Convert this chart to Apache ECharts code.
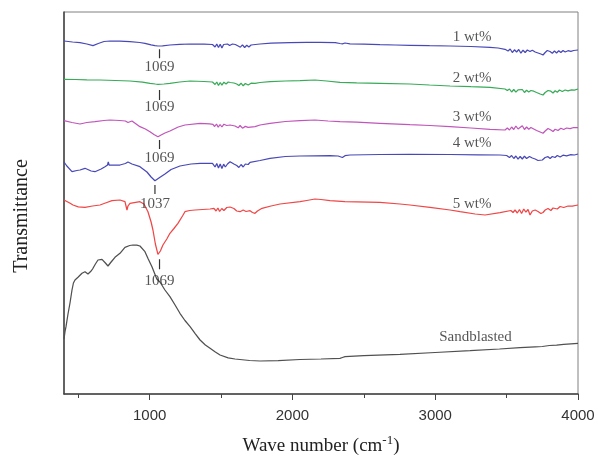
<!DOCTYPE html>
<html>
<head>
<meta charset="utf-8">
<script src="https://cdn.jsdelivr.net/npm/echarts@6/dist/echarts.min.js"></script>
<style>
html,body{margin:0;padding:0;background:#fff;}
#chart{width:598px;height:463px;}
</style>
</head>
<body>
<div id="chart"></div>
<script>
// ---- Data (wave number cm^-1, transmittance a.u.) ----
const wt1 = [[400,353],[460,352],[512,351.3],[560,350],[603,348.3],[640,350.5],[680,352.5],[722,353],[790,352.8],[862,352.3],[930,351.5],[967,350.7],[1010,349.2],[1037,348.3],[1058,348],[1090,348.2],[1142,349],[1210,349.6],[1283,350],[1380,349.8],[1440,349.5],
[1458,347],[1470,350],[1482,346.5],[1494,349.8],[1506,346],[1518,349.5],[1530,347.5],[1545,350],[1560,348.5],[1580,350],[1600,349.5],[1620,348],[1635,346.8],[1650,349.2],[1665,346.5],[1680,348.8],[1695,347],[1710,349],[1740,349.5],[1773,350],
[1850,350.8],[1983,351.3],[2100,351.6],[2193,351.7],[2300,351.3],[2333,350.5],[2350,350.2],[2368,351],[2403,350.2],[2500,349.8],[2613,349.3],[2720,349],[2823,348.7],[2960,348.3],[3104,348],[3250,347.5],[3384,346.7],[3440,346],[3489,344.7],
[3510,343],[3525,345],[3540,341.5],[3555,344.2],[3570,342],[3585,344.5],[3600,340.8],[3615,343.8],[3630,341.5],[3645,344],[3664,342.5],[3680,343.8],[3700,342],[3720,341],[3740,340],[3755,339],[3770,341.5],[3785,343.5],[3804,342.5],[3820,340.8],[3835,343],[3850,341],[3865,343.2],[3880,341.5],[3895,343.5],[3910,342],[3930,343.3],[3950,342.6],[3970,343.5],[4000,344]];

const wt2 = [[400,314.7],[480,314.5],[560,314.2],[652,314],[760,313.5],[862,313],[950,311.8],[1002,310.7],[1040,310],[1058,309.7],[1100,310],[1142,310.7],[1210,312],[1283,313],[1380,312.5],[1440,312],
[1458,309.5],[1470,312],[1482,308.5],[1494,311.5],[1506,308.8],[1520,311.8],[1535,310],[1550,312],[1565,311.5],[1590,311],[1610,310],[1625,308.5],[1640,310.8],[1655,308.2],[1670,310.5],[1690,309],[1710,310.8],[1738,310.7],[1773,311.5],[1843,312.3],[1950,313],[2053,313.3],[2158,314],[2240,313],[2333,311.7],[2450,311.2],[2613,310.7],[2823,310],[2960,309],[3104,308],[3250,307.3],[3384,306.7],[3489,305],
[3505,303.5],[3520,305],[3535,302],[3550,304.5],[3565,301.8],[3580,304.2],[3594,302.3],[3610,304.5],[3625,301.5],[3640,303.8],[3655,302],[3670,303.5],[3690,302.8],[3710,301.5],[3735,300],[3755,299],[3770,301.5],[3790,303.5],[3810,302.8],[3825,301],[3840,303.3],[3855,301.8],[3870,304],[3890,302.5],[3910,304],[3930,303.2],[3955,304.2],[3975,303.8],[4000,305]];

const wt3 = [[400,273.3],[456,271.5],[512,270],[560,271.5],[617,272.3],[680,273.5],[722,274],[790,273.5],[830,273],[848,271.5],[862,272.8],[876,273],[932,267.3],[970,265],[1002,262.3],[1030,259.5],[1058,257.3],[1080,259],[1107,261],[1142,263],[1200,267],[1247,269],[1353,270.7],[1420,270.2],
[1443,269.7],[1455,267.5],[1468,270],[1480,266.8],[1493,269.5],[1506,267],[1520,269.8],[1540,268.5],[1563,269],[1598,268],[1620,266.2],[1633,268.5],[1650,265.8],[1670,267.6],[1689,266.7],[1703,267.5],[1738,267.3],[1773,269],[1843,270.7],[1950,272.5],[2053,273.3],[2158,274],[2250,273],[2333,272.3],[2450,271.8],[2613,270.7],[2823,269.3],[2963,268.5],[3104,267.3],[3250,266],[3384,264.7],[3489,264],
[3505,266],[3520,264],[3535,267],[3550,264.5],[3565,268],[3580,265],[3594,265.7],[3610,268.2],[3625,264.5],[3640,267],[3655,264.8],[3670,266.5],[3690,265],[3710,263.5],[3735,262],[3755,260.7],[3770,263],[3790,265.5],[3810,264],[3825,262.5],[3840,264.8],[3860,263.5],[3880,265.8],[3900,264.5],[3920,266],[3945,265.3],[3970,266.5],[4000,266.3]];

const wt4 = [[400,232],[420,228],[456,222.3],[490,223.5],[512,224],[547,225.7],[590,223],[617,222.3],[660,225],[687,227.3],[705,229],[710,232],[716,229],[729,228],[792,229],[830,230.5],[848,232],[862,231.5],[876,230],[932,227.3],[981,222],[1010,217],[1037,213.3],[1070,216.5],[1107,220],[1150,224.5],[1212,228],[1290,230],[1353,230.7],[1440,230.7],
[1458,227],[1470,230.5],[1482,226],[1494,230],[1506,225.5],[1518,229.8],[1530,227],[1545,230],[1563,232.3],[1590,230],[1610,228.5],[1625,226.5],[1640,229.5],[1655,227],[1670,230],[1690,229.5],[1703,231.7],[1773,233.5],[1843,235.7],[1950,237.5],[2053,238],[2263,238.3],[2320,238],[2333,237],[2350,236.5],[2368,238.3],[2403,239],[2613,239.5],[2823,239.7],[3104,239.5],[3300,239.2],[3454,239],[3500,238.5],
[3520,236.5],[3535,238.5],[3550,235.5],[3565,238],[3580,234.8],[3595,237.5],[3610,235],[3625,237.8],[3640,235.5],[3660,237.5],[3680,236],[3700,235],[3720,233.5],[3734,232.3],[3750,234],[3770,236.5],[3790,237.3],[3805,235.5],[3820,237.5],[3839,236.5],[3855,238.5],[3875,237],[3895,238.8],[3920,238.2],[3950,239.3],[3975,239],[4000,240]];

const wt5 = [[400,194],[407,195.7],[440,191],[463,189],[500,187.2],[547,186.7],[600,188],[652,189],[700,191.5],[736,193.3],[792,194],[827,192.3],[836,187],[841,184],[848,188],[862,190.7],[932,192.3],[960,190],[988,182.3],[1010,172],[1023,164],[1040,150],[1058,139.7],[1075,143],[1093,149],[1120,155],[1142,160.7],[1170,165.5],[1198,170.7],[1230,178],[1247,182.3],[1280,183.5],[1318,184],[1423,185],[1450,185.7],
[1465,183],[1478,186],[1490,182.5],[1505,185.5],[1520,183.5],[1540,186.5],[1563,187],[1590,185.5],[1610,183],[1633,182.3],[1655,184],[1675,182.5],[1703,183.3],[1720,181.5],[1738,180.7],[1755,183],[1787,185.7],[1850,188],[1913,190],[2053,192.3],[2100,193.5],[2158,195],[2200,194.5],[2263,193.3],[2368,192.3],[2613,191.7],[2753,190],[2823,189],[2963,186.7],[3104,184],[3174,182.3],[3280,180],[3349,179],[3454,181.3],[3530,183.5],
[3545,181.5],[3559,184],[3575,181],[3590,184.5],[3605,180.5],[3620,185],[3635,181.8],[3650,184.5],[3664,179],[3680,183],[3700,184],[3720,182.5],[3740,180.5],[3755,181.5],[3770,184],[3790,185.5],[3810,183.5],[3825,186],[3839,186.7],[3855,185],[3875,187.5],[3900,186.5],[3930,188],[3960,187.8],[4000,189]];

const sandblasted = [[400,55],[407,62.3],[414,67.3],[428,80],[442,91],[456,104],[466,111],[477,114],[498,116.7],[526,120.7],[547,122.3],[568,120],[590,123],[603,125.7],[620,130],[638,134],[666,134.7],[690,131],[708,128],[730,132],[757,136.7],[792,140.7],[827,146.7],[860,148.5],[883,149],[910,148.8],[932,148],[967,142.3],[990,135],[1016,127.3],[1050,115],[1072,112],[1107,104],[1142,97.3],[1180,88.5],[1212,80.7],[1247,73.5],[1283,67.3],[1320,60.2],[1353,54],[1390,49],[1423,45.7],[1460,42],[1493,39],[1550,36.2],[1598,35],[1700,33.5],[1773,33],[1900,33.3],[2053,34.5],[2200,35],[2333,35.7],[2350,36.5],[2368,37.3],[2500,38.3],[2753,39.7],[3000,41.5],[3244,43.3],[3450,45],[3594,46.3],[3700,47.2],[3750,47.5],[3800,48.5],[3850,48.8],[3900,49.6],[4000,50.7]];

const seriesNames = ['1 wt%','2 wt%','3 wt%','4 wt%','5 wt%','Sandblasted'];
const labelX = [3258,3258,3258,3258,3258,3282];
const labelY = [356.7,316.3,276.7,250.7,190,57.3];

// peak annotations
const annX = [1069,1069,1069,1037,1069];
const annTickTop = [344.7,304,254,209,134.7];
const annTickBottom = [335.7,294,245,200,124.7];
const annTextY = [327.3,286.7,235.7,190,113.3];
const annText = ['1069','1069','1069','1037','1069'];

const majorTicks = [1000,2000,3000,4000];
const minorTicks = [500,1500,2500,3500];

// ---- Chart ----
const chart = echarts.init(document.getElementById('chart'));
const curves = [wt1, wt2, wt3, wt4, wt5, sandblasted];
const curveColors = ['#4848b8','#38aa58','#c055ba','#4848b8','#f04646','#505050'];
const serif = 'Liberation Serif, Times New Roman, serif';

const series = [];
curves.forEach((d, i) => {
  series.push({
    type: 'line', data: d, showSymbol: false, smooth: false,
    lineStyle: {width: 1.25, color: curveColors[i]}, silent: true, z: 3
  });
});
annX.forEach((x, i) => {
  series.push({
    type: 'line', data: [[x, annTickTop[i]], [x, annTickBottom[i]]], showSymbol: false,
    lineStyle: {width: 1.2, color: '#333'}, silent: true, z: 4
  });
});
series.push({
  type: 'scatter', symbolSize: 0, silent: true, z: 5,
  data: annX.map((x, i) => ({value: [x, annTextY[i]], name: annText[i]})),
  label: {show: true, position: 'inside', formatter: '{b}', color: '#2a2a2a', fontFamily: serif, fontSize: 15}
});
series.push({
  type: 'scatter', symbolSize: 0, silent: true, z: 5,
  data: labelX.map((x, i) => ({value: [x, labelY[i]], name: seriesNames[i]})),
  label: {show: true, position: 'inside', formatter: '{b}', color: '#2a2a2a', fontFamily: serif, fontSize: 15}
});
series.push({
  type: 'line', xAxisIndex: 1, data: [], silent: true
});

chart.setOption({
  animation: false,
  backgroundColor: '#fff',
  grid: {left: 64, right: 20, top: 12, bottom: 69, show: true, borderColor: '#808080', borderWidth: 1},
  xAxis: [{
    type: 'value', min: 400, max: 4000,
    name: '{m|Wave number (cm}{s|-1}{m|)}', nameLocation: 'middle', nameGap: 40,
    nameTextStyle: {rich: {m: {fontFamily: serif, fontSize: 19, color: '#222', verticalAlign: 'bottom', lineHeight: 22}, s: {fontFamily: serif, fontSize: 13, color: '#222', verticalAlign: 'top', lineHeight: 22, padding: [0,0,10,0]}}},
    axisLine: {show: true, lineStyle: {color: '#444', width: 1.5}},
    axisTick: {show: true, inside: false, length: 6, customValues: majorTicks, lineStyle: {color: '#444', width: 1}},
    axisLabel: {show: true, customValues: majorTicks, margin: 14, fontFamily: 'Liberation Sans, Arial, sans-serif', fontSize: 15, color: '#333', formatter: v => String(v)},
    splitLine: {show: false}
  }, {
    type: 'value', min: 400, max: 4000, position: 'bottom',
    axisLine: {show: false},
    axisTick: {show: true, inside: false, length: 4, customValues: minorTicks, lineStyle: {color: '#444', width: 1}},
    axisLabel: {show: false},
    splitLine: {show: false}
  }],
  yAxis: {
    type: 'value', min: 0, max: 382,
    name: 'Transmittance', nameLocation: 'middle', nameGap: 32, nameRotate: 90,
    nameTextStyle: {fontFamily: serif, fontSize: 20, color: '#222', padding: [0, 26, 0, 0]},
    axisLine: {show: true, lineStyle: {color: '#444', width: 1.5}},
    axisTick: {show: false}, axisLabel: {show: false}, splitLine: {show: false}
  },
  series: series
});
</script>
</body>
</html>
